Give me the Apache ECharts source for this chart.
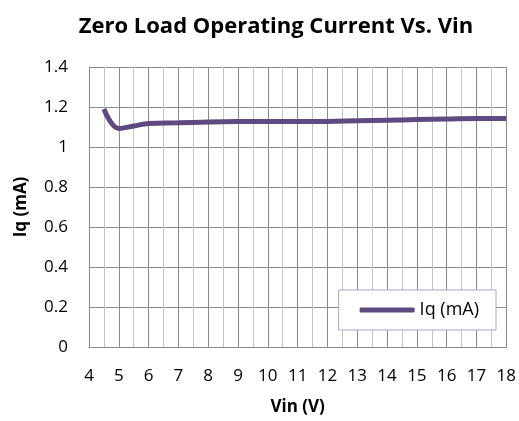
<!DOCTYPE html>
<html><head><meta charset="utf-8">
<script src="https://cdn.jsdelivr.net/npm/echarts@6/dist/echarts.min.js"></script>
<style>html,body{margin:0;padding:0;background:#fff}#c{width:519px;height:421px}</style>
</head><body><div id="c"></div>
<script>
var vin = [4.5, 5, 5.5, 6, 7, 8, 9, 10, 11, 12, 13, 14, 15, 16, 17, 18];
var iq = [1.19, 1.093, 1.105, 1.118, 1.121, 1.125, 1.127, 1.128, 1.128, 1.128, 1.131, 1.134, 1.137, 1.140, 1.143, 1.143];
var seriesName = 'Iq (mA)';
var font = '"Open Sans", "Liberation Sans", sans-serif';
var chart = echarts.init(document.getElementById('c'));
chart.setOption({
  animation: false,
  title: {text: 'Zero Load Operating Current Vs. Vin', left: 271, top: 11, textAlign: 'center',
    textStyle: {fontFamily: font, fontSize: 22, fontWeight: 'bold', color: '#000'}},
  grid: {left: 89, right: 11, top: 67, bottom: 70},
  legend: {right: 23, top: 290, orient: 'horizontal', backgroundColor: '#fff', borderColor: '#B3A2C7', borderWidth: 1,
    padding: [11, 17, 11, 21], icon: 'roundRect', itemWidth: 55, itemHeight: 5, itemGap: 0,
    textStyle: {fontFamily: font, fontSize: 18, color: '#000'},
    data: [seriesName]},
  xAxis: {type: 'value', min: 4, max: 18, interval: 1,
    name: 'Vin (V)', nameLocation: 'middle', nameGap: 52,
    nameTextStyle: {fontFamily: font, fontSize: 17, fontWeight: 'bold', color: '#000'},
    axisLine: {lineStyle: {color: '#888'}}, axisTick: {show: false},
    axisLabel: {fontFamily: font, fontSize: 17, color: '#000', margin: 21},
    splitLine: {show: true, lineStyle: {color: '#8a8a8a', width: 1}},
    minorTick: {show: false, splitNumber: 2},
    minorSplitLine: {show: true, lineStyle: {color: '#c4c4c4', width: 1}}},
  yAxis: {type: 'value', min: 0, max: 1.4, interval: 0.2,
    name: 'Iq (mA)', nameLocation: 'middle', nameGap: 59, nameRotate: 90,
    nameTextStyle: {fontFamily: font, fontSize: 17, fontWeight: 'bold', color: '#000'},
    axisLine: {show: true, lineStyle: {color: '#888'}}, axisTick: {show: false},
    axisLabel: {fontFamily: font, fontSize: 17, color: '#000', margin: 21,
      formatter: function (v) { return String(Math.round(v * 10) / 10); }},
    splitLine: {show: true, lineStyle: {color: '#8a8a8a', width: 1}}},
  series: [{name: seriesName, type: 'line', smooth: 0.4, showSymbol: false, symbol: 'none',
    data: vin.map(function (x, i) { return [x, iq[i]]; }),
    lineStyle: {color: '#5E4A80', width: 5}, itemStyle: {color: '#5E4A80'}}]
});
</script></body></html>
